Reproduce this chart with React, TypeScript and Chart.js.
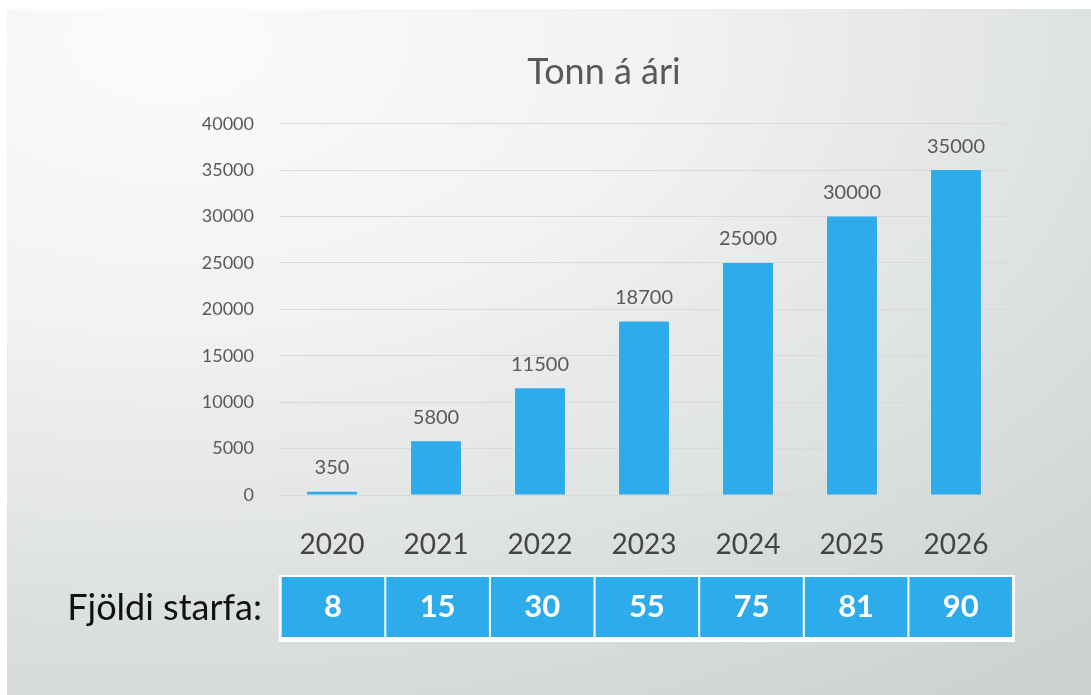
import React, { useEffect, useRef } from 'react';
import { Chart, registerables } from 'chart.js';

Chart.register(...registerables);

const title = 'Tonn á ári';
const years = ['2020', '2021', '2022', '2023', '2024', '2025', '2026'];
const tonnes = [350, 5800, 11500, 18700, 25000, 30000, 35000];
const rowLabel = 'Fjöldi starfa:';
const jobs = [8, 15, 30, 55, 75, 81, 90];
const yMin = 0;
const yMax = 40000;
const yStep = 5000;

const FONT = 'Lato, "Open Sans", sans-serif';
const BLUE = '#2EABEA';
const GREY = '#595959';

const valueLabels = {
  id: 'valueLabels',
  afterDatasetsDraw(chart: any) {
    const ctx = chart.ctx;
    const meta = chart.getDatasetMeta(0);
    ctx.save();
    ctx.font = `20px ${FONT}`;
    ctx.fillStyle = GREY;
    ctx.textAlign = 'center';
    ctx.textBaseline = 'middle';
    meta.data.forEach((bar: any, i: number) => {
      ctx.fillText(String(tonnes[i]), bar.x, bar.y - 24);
    });
    ctx.restore();
  },
};

const jobsTable = {
  id: 'jobsTable',
  afterDraw(chart: any) {
    const ctx = chart.ctx;
    const xs = chart.scales.x;
    const area = chart.chartArea;
    const n = years.length;
    const cw = ((area.right - area.left) / n) * 1.006;
    const top = 568;
    const h = 60;
    const left = xs.getPixelForValue(0) - cw / 2 + 1;
    const right = left + cw * n;
    ctx.save();
    ctx.fillStyle = '#ffffff';
    ctx.fillRect(left - 2, top - 2, right - left + 4, h + 7);
    for (let i = 0; i < n; i++) {
      const x0 = left + cw * i;
      ctx.fillStyle = BLUE;
      ctx.fillRect(x0 + 1, top, cw - 2, h);
      ctx.fillStyle = '#ffffff';
      ctx.font = `bold 31px ${FONT}`;
      ctx.textAlign = 'center';
      ctx.textBaseline = 'middle';
      ctx.fillText(String(jobs[i]), x0 + cw / 2, top + h / 2);
    }
    ctx.fillStyle = '#111111';
    ctx.font = `36px ${FONT}`;
    ctx.textAlign = 'right';
    ctx.textBaseline = 'middle';
    ctx.fillText(rowLabel, 255, top + 31);
    ctx.restore();
  },
};

export default function App() {
  const ref = useRef<HTMLCanvasElement | null>(null);
  useEffect(() => {
    if (!ref.current) return;
    const chart = new Chart(ref.current, {
      type: 'bar',
      data: {
        labels: years,
        datasets: [
          {
            label: title,
            data: tonnes,
            backgroundColor: BLUE,
            borderWidth: 0,
            barPercentage: 0.8,
            categoryPercentage: 0.6,
          },
        ],
      },
      options: {
        animation: false,
        responsive: true,
        maintainAspectRatio: false,
        layout: { padding: { left: 193, right: 83, top: 0, bottom: 135 } },
        plugins: {
          legend: { display: false },
          tooltip: { enabled: false },
          title: {
            display: true,
            text: title,
            color: GREY,
            font: { family: FONT, size: 36, weight: 'normal' },
            padding: { top: 42, bottom: 29.5 },
          },
        },
        scales: {
          x: {
            grid: { display: false, drawTicks: false },
            border: { display: false },
            ticks: {
              color: '#444444',
              padding: 33,
              font: { family: FONT, size: 28 },
            },
            afterFit(scale: any) {
              scale.height = 65;
            },
          },
          y: {
            min: yMin,
            max: yMax,
            grid: { color: '#d9d9d9', lineWidth: 1, drawTicks: false },
            border: { display: false },
            ticks: {
              stepSize: yStep,
              color: GREY,
              padding: 26,
              font: { family: FONT, size: 18 },
              callback: (v: any) => String(v),
            },
            afterFit(scale: any) {
              scale.width = 80;
            },
          },
        },
      },
      plugins: [valueLabels, jobsTable],
    });
    return () => chart.destroy();
  }, []);

  return (
    <div style={{ position: 'fixed', left: 0, top: 0, width: 1091, height: 695, background: '#ffffff' }}>
      <div
        style={{
          position: 'absolute',
          left: 7,
          top: 9,
          width: 1084,
          height: 686,
          background:
            'radial-gradient(ellipse 130% 120% at 15% 5%, #fafbfb 0%, #f1f2f2 35%, #dcdfe0 70%, #ccd0d1 100%)',
        }}
      >
        <canvas ref={ref} />
      </div>
    </div>
  );
}
